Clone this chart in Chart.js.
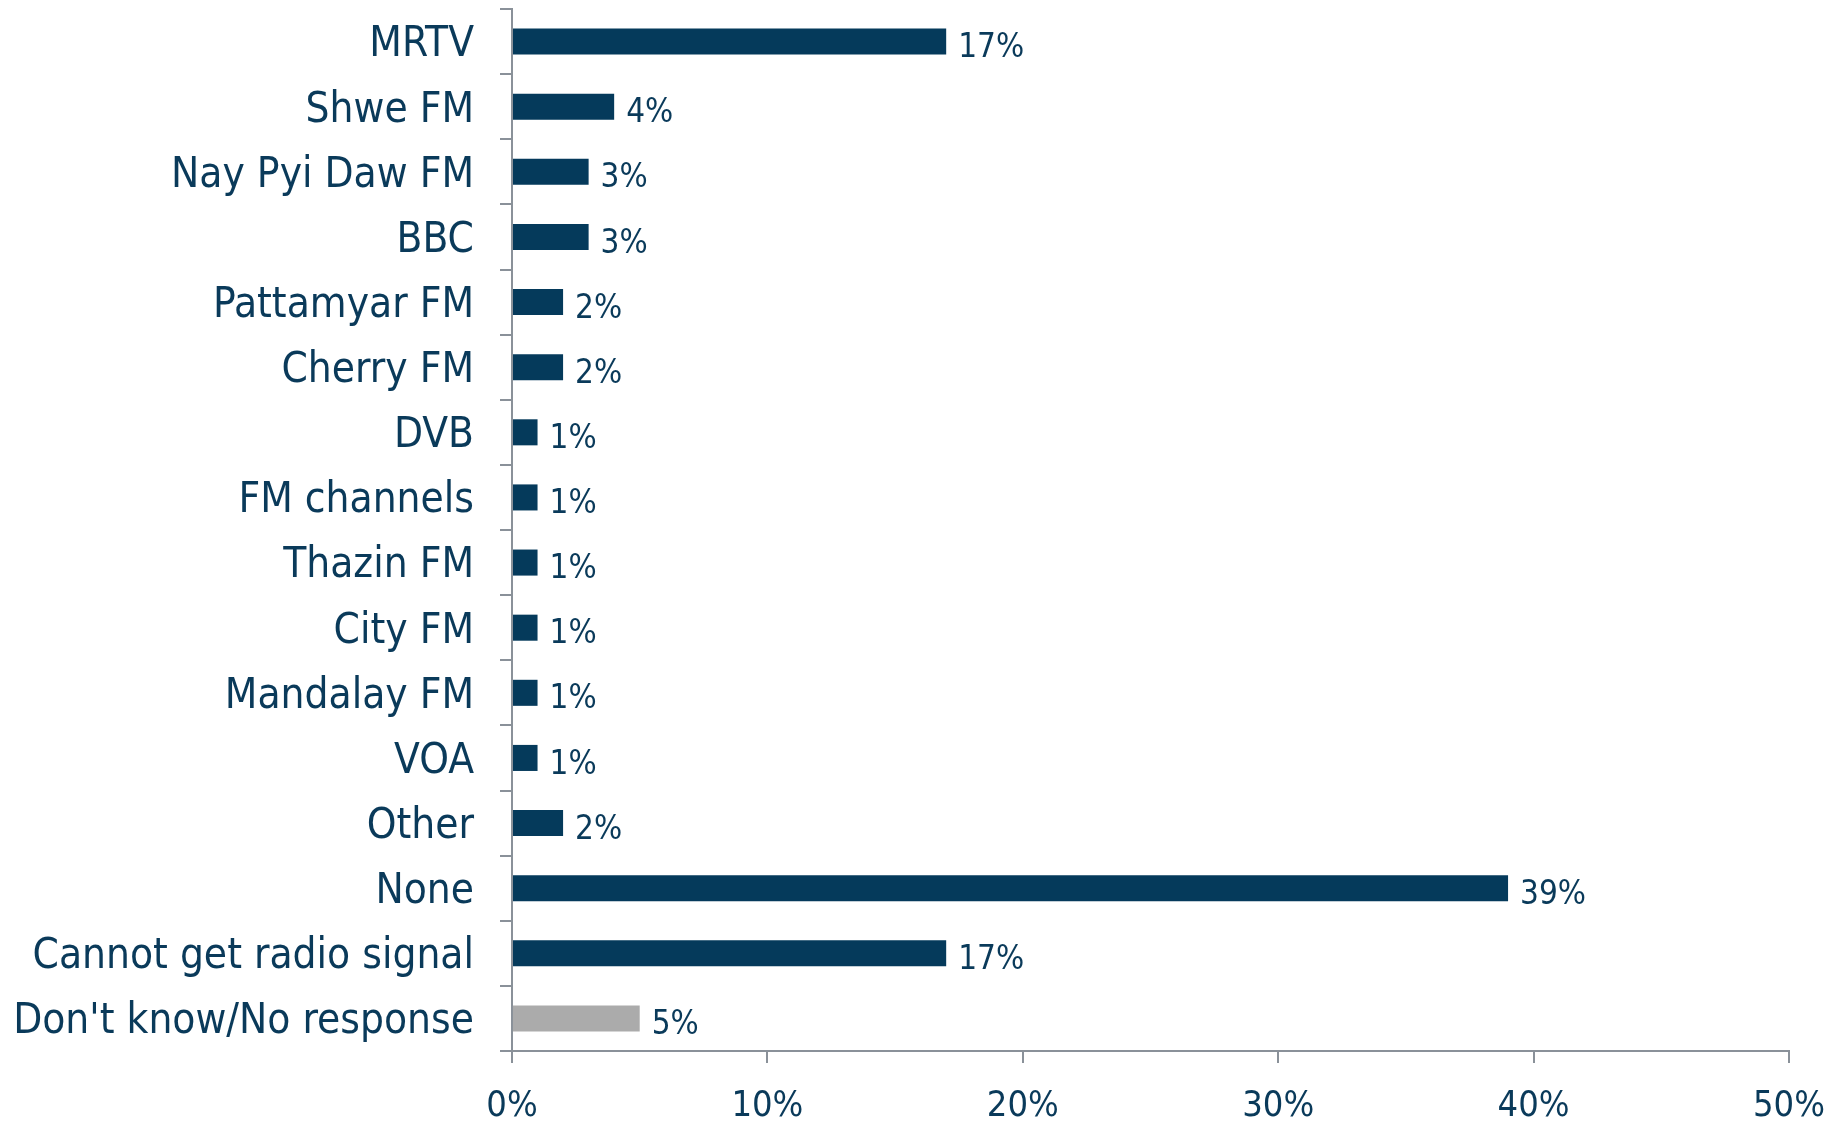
<!DOCTYPE html>
<html>
<head>
<meta charset="utf-8">
<script src="https://cdn.jsdelivr.net/npm/chart.js@4/dist/chart.umd.min.js"></script>
<style>
  html, body { margin: 0; padding: 0; background: #fff; }
  #wrap { width: 1842px; height: 1123px; }
</style>
</head>
<body>
<div id="wrap"><canvas id="graphique" width="1842" height="1123"></canvas></div>
<script>
const categories = [
    "MRTV", "Shwe FM", "Nay Pyi Daw FM", "BBC", "Pattamyar FM", "Cherry FM",
    "DVB", "FM channels", "Thazin FM", "City FM", "Mandalay FM", "VOA",
    "Other", "None", "Cannot get radio signal", "Don't know/No response"
];
const valeurs = [17, 4, 3, 3, 2, 2, 1, 1, 1, 1, 1, 1, 2, 39, 17, 5];
const couleurs = valeurs.map((_, i) => i === categories.length - 1 ? "#ababab" : "#053a5b");
const ticksX = [0, 10, 20, 30, 40, 50];

const police = "'DejaVu Sans Condensed', 'DejaVu Sans', sans-serif";
const bleu = "#0a3a5a";
const gris = "#8a9199";

// Étiquettes de valeur au bout de chaque barre
const etiquettes = {
    id: "etiquettes",
    afterDatasetsDraw(chart) {
        const ctx = chart.ctx;
        const meta = chart.getDatasetMeta(0);
        ctx.save();
        ctx.font = "33px " + police;
        ctx.fillStyle = bleu;
        ctx.textAlign = "left";
        ctx.textBaseline = "middle";
        meta.data.forEach((bar, i) => {
            ctx.fillText(valeurs[i] + "%", bar.x + 12, bar.y + 7);
        });
        ctx.restore();
    }
};

new Chart(document.getElementById("graphique").getContext("2d"), {
    type: "bar",
    data: {
        labels: categories,
        datasets: [{
            data: valeurs,
            backgroundColor: couleurs,
            barPercentage: 0.4,
            categoryPercentage: 1.0,
        }],
    },
    options: {
        indexAxis: "y",
        responsive: false,
        animation: false,
        layout: { padding: { top: 9, right: 53, left: 0, bottom: 0 } },
        plugins: {
            legend: { display: false },
            tooltip: { enabled: false },
        },
        scales: {
            x: {
                min: 0,
                max: 50,
                afterBuildTicks: (scale) => {
                    scale.ticks = ticksX.map(v => ({ value: v }));
                },
                afterFit: (scale) => {
                    scale.height = 72;
                    scale.paddingLeft = 0;
                    scale.paddingRight = 0;
                },
                border: { color: gris, width: 2 },
                grid: {
                    drawOnChartArea: false,
                    color: gris,
                    lineWidth: 2,
                    tickLength: 12,
                },
                ticks: {
                    color: bleu,
                    font: { family: police, size: 36 },
                    padding: 22,
                    callback: (v) => v + "%",
                },
            },
            y: {
                afterFit: (scale) => {
                    scale.width = 512;
                    scale.paddingTop = 0;
                    scale.paddingBottom = 0;
                },
                border: { color: gris, width: 2 },
                grid: {
                    drawOnChartArea: false,
                    offset: true,
                    color: gris,
                    lineWidth: 2,
                    tickLength: 12,
                },
                ticks: {
                    color: bleu,
                    font: { family: police, size: 42 },
                    padding: 26,
                    labelOffset: 4,
                    autoSkip: false,
                },
            },
        },
    },
    plugins: [etiquettes],
});
</script>
</body>
</html>
